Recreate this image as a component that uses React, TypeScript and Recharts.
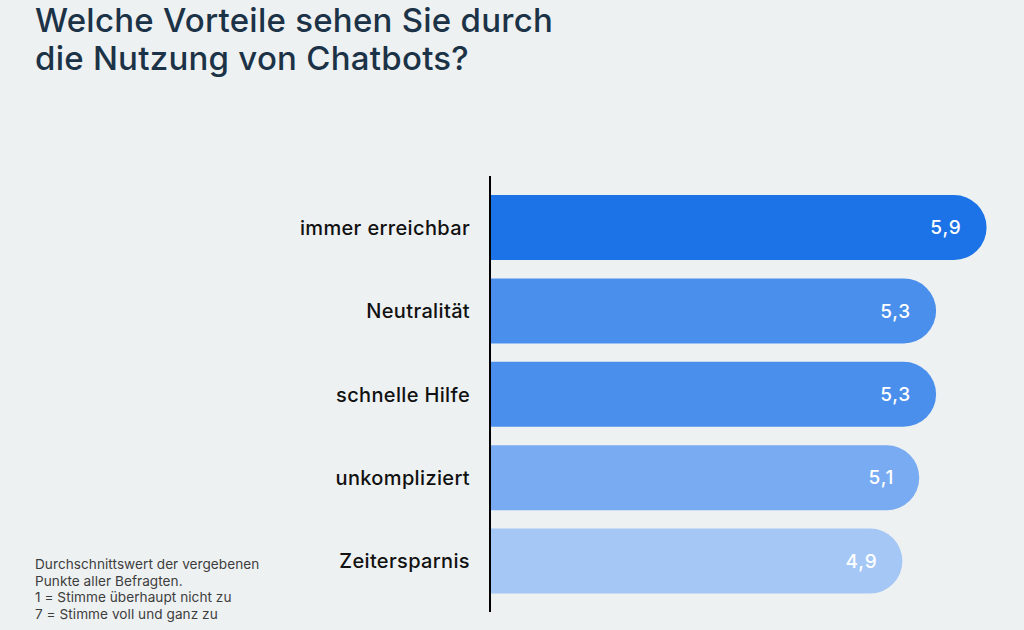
import { Bar, BarChart, Cell, LabelList, XAxis, YAxis } from "recharts";

// Survey: perceived benefits of chatbots, mean score on a 1–7 scale.
const categories = [
  "immer erreichbar",
  "Neutralität",
  "schnelle Hilfe",
  "unkompliziert",
  "Zeitersparnis",
];
const scores = [5.9, 5.3, 5.3, 5.1, 4.9];
const barColors = ["#1b73e7", "#4a8fec", "#4a8fec", "#78abf1", "#a4c7f6"];

const data = categories.map((name, i) => ({ name, score: scores[i] }));

const fmt = (v: number) => v.toFixed(1).replace(".", ",");

const titleLine = {
  position: "absolute" as const,
  left: 35,
  fontSize: 33,
  lineHeight: "40px",
  fontWeight: 500,
  letterSpacing: 0.25,
  color: "#1c3347",
  whiteSpace: "nowrap" as const,
};

export default function App() {
  return (
    <div
      style={{
        position: "fixed",
        left: 0,
        top: 0,
        width: 1024,
        height: 630,
        background: "#eef1f2",
        fontFamily: "Inter, 'Noto Sans', sans-serif",
        overflow: "hidden",
      }}
    >
      <div style={{ ...titleLine, top: 0 }}>Welche Vorteile sehen Sie durch</div>
      <div style={{ ...titleLine, top: 38 }}>die Nutzung von Chatbots?</div>

      <BarChart
        width={1024}
        height={630}
        data={data}
        layout="vertical"
        margin={{ top: 176, right: 29, bottom: 18, left: 0 }}
        style={{ position: "absolute", left: 0, top: 0 }}
      >
        <XAxis type="number" domain={[0, 6]} hide />
        <YAxis
          type="category"
          dataKey="name"
          width={490}
          padding={{ top: 10, bottom: 9 }}
          axisLine={{ stroke: "#000", strokeWidth: 2 }}
          tickLine={false}
          tickMargin={14}
          tick={{ fill: "#111", fontSize: 20, fontWeight: 500, letterSpacing: 0.35 }}
        />
        <Bar
          dataKey="score"
          barSize={65}
          radius={[0, 33, 33, 0]}
          isAnimationActive={false}
        >
          {data.map((d, i) => (
            <Cell key={d.name} fill={barColors[i]} />
          ))}
          <LabelList
            dataKey="score"
            position="insideRight"
            offset={25}
            formatter={(v: any) => fmt(Number(v))}
            style={{ fill: "#fff", fontSize: 19, fontWeight: 500, letterSpacing: 0.8 }}
          />
        </Bar>
      </BarChart>

      <div
        style={{
          position: "absolute",
          left: 35,
          top: 556,
          fontSize: 13.6,
          lineHeight: "16.7px",
          letterSpacing: 0.05,
          color: "#3d3d3d",
        }}
      >
        Durchschnittswert der vergebenen
        <br />
        Punkte aller Befragten.
        <br />1 = Stimme überhaupt nicht zu
        <br />7 = Stimme voll und ganz zu
      </div>
    </div>
  );
}
